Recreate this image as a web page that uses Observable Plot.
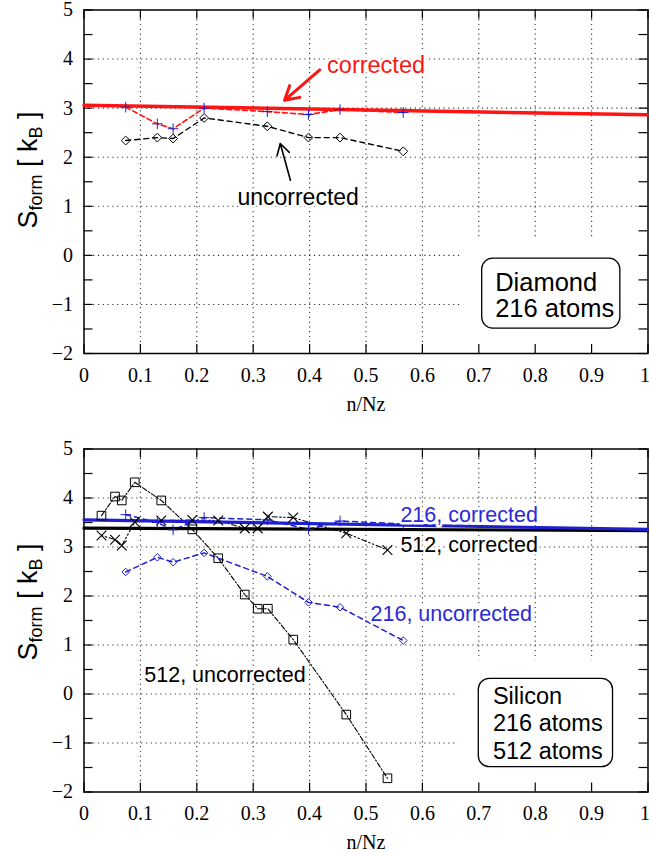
<!DOCTYPE html>
<html><head><meta charset="utf-8">
<script src="https://cdn.jsdelivr.net/npm/d3@7"></script>
<script src="https://cdn.jsdelivr.net/npm/@observablehq/plot@0.6"></script>
<style>
html,body{margin:0;padding:0;background:#fff;}
body{width:649px;height:854px;overflow:hidden;}
svg{display:block;}
</style></head><body><div id="chart"></div>
<script>
// ---------- axes / ticks ----------
const xTicks = [0, 0.1, 0.2, 0.3, 0.4, 0.5, 0.6, 0.7, 0.8, 0.9, 1];
const yTicks = [-2, -1, 0, 1, 2, 3, 4, 5];
const yMinorTicks = [-2, -1.5, -1, -0.5, 0, 0.5, 1, 1.5, 2, 2.5, 3, 3.5, 4, 4.5, 5];
const xGrid = [0.1, 0.2, 0.3, 0.4, 0.5, 0.6, 0.7, 0.8, 0.9];
const yGrid = [-1, 0, 1, 2, 3, 4];
const xLabel = "n/Nz";

// ---------- Diamond, 216 atoms ----------
const diamondX = [0.074, 0.130, 0.158, 0.213, 0.325, 0.398, 0.454, 0.566];
const diamondUncorrected = [2.34, 2.40, 2.38, 2.80, 2.63, 2.40, 2.40, 2.12];
const diamondCorrected = [3.02, 2.68, 2.58, 3.00, 2.93, 2.87, 2.97, 2.91];
const diamondFitX = [0, 1];
const diamondFitY = [3.06, 2.865];

// ---------- Silicon, 216 atoms ----------
const si216X = [0.074, 0.130, 0.158, 0.213, 0.325, 0.398, 0.454, 0.566];
const si216Uncorrected = [2.49, 2.79, 2.69, 2.88, 2.40, 1.87, 1.77, 1.09];
const si216Corrected = [3.66, 3.50, 3.35, 3.60, 3.555, 3.36, 3.53, 3.47];
const si216FitX = [0, 1];
const si216FitY = [3.555, 3.36];

// ---------- Silicon, 512 atoms ----------
const si512X = [0.031, 0.055, 0.067, 0.090, 0.137, 0.192, 0.238, 0.285, 0.308, 0.326, 0.371, 0.465, 0.538];
const si512Uncorrected = [3.64, 4.03, 3.95, 4.32, 3.95, 3.36, 2.77, 2.03, 1.74, 1.74, 1.11, -0.42, -1.72];
const si512Corrected = [3.235, 3.15, 3.03, 3.51, 3.54, 3.55, 3.54, 3.38, 3.38, 3.62, 3.60, 3.28, 2.94];
const si512FitX = [0, 1];
const si512FitY = [3.385, 3.335];

// ---------- annotations ----------
const topLabels = ["corrected", "uncorrected"];
const topLabelX = [0.431, 0.272];
const topLabelY = [3.71, 1.02];
const topArrowFrom = [[0.418, 3.78], [0.366, 1.53]];
const topArrowTo = [[0.3555, 3.16], [0.348, 2.28]];
const topBoxText = "Diamond\n216 atoms";

const bottomLabels = ["216, corrected", "512, corrected", "216, uncorrected", "512, uncorrected"];
const bottomLabelX = [0.561, 0.561, 0.508, 0.393];
const bottomLabelY = [3.52, 2.894, 1.50, 0.24];
const bottomBoxText = "Silicon\n216 atoms\n512 atoms";

const yLabelParts = ["S", "form", " [ k", "B", " ]"];

// ---------- styling ----------
const W = 649, ML = 83.5, MR = 1.5, TICK = 9;
const RED = "#ff1414", BLUE = "#1f1fd0", BLUE_TXT = "#2a2ad6";
const SANS = "Liberation Sans, Arial, Helvetica, sans-serif";
const SERIF = "Liberation Serif, Times New Roman, serif";
const fmt = d3.format("~g");
const pts = (xs, ys) => xs.map((x, i) => ({x, y: ys[i]}));

function panel({height, marginTop, marginBottom, mask, box, marks}) {
  const frameH = height - marginTop - marginBottom;
  const frameW = W - ML - MR;
  const gridStyle = {stroke: "#111", strokeWidth: 1.1, strokeDasharray: "1.2,3.6", strokeOpacity: 0.85};
  const axisText = {tickSize: 0, tickFormat: fmt, fontSize: 20, fontFamily: SERIF, label: null};
  return Plot.plot({
    width: W, height, marginLeft: ML, marginRight: MR, marginTop, marginBottom,
    x: {domain: [0, 1], label: null},
    y: {domain: [-2, 5], label: null},
    style: {background: "white", color: "black", fontFamily: SANS, fontSize: "20px", overflow: "visible"},
    marks: [
      Plot.ruleX(xGrid, {x: d => d, ...gridStyle}),
      Plot.ruleY(yGrid, {y: d => d, ...gridStyle}),
      Plot.rect([mask], {x1: "x1", x2: "x2", y1: "y1", y2: "y2", fill: "white"}),
      Plot.tickX(xTicks, {x: d => d, insetTop: frameH - TICK, stroke: "black", strokeWidth: 1.2}),
      Plot.tickX(xTicks, {x: d => d, insetBottom: frameH - TICK, stroke: "black", strokeWidth: 1.2}),
      Plot.tickY(yMinorTicks, {y: d => d, insetRight: frameW - TICK, stroke: "black", strokeWidth: 1.2}),
      Plot.tickY(yMinorTicks, {y: d => d, insetLeft: frameW - TICK, stroke: "black", strokeWidth: 1.2}),
      Plot.frame({stroke: "black", strokeWidth: 1.5}),
      Plot.axisX(xTicks.slice(0, -1), {...axisText, tickPadding: 14}),
      Plot.axisX(xTicks.slice(-1), {...axisText, tickPadding: 14, dx: -3}),
      Plot.axisY(yTicks, {...axisText, tickPadding: 11}),
      Plot.text([xLabel], {text: d => d, frameAnchor: "bottom", dy: 57, lineAnchor: "bottom", fontSize: 20, fontFamily: SERIF, fill: "black"}),
      Plot.rect([box], {x1: "x1", x2: "x2", y1: "y1", y2: "y2", rx: 11, fill: "white", stroke: "black", strokeWidth: 1.3}),
      Plot.text([box], {x: "tx", y: "ty", text: "text", textAnchor: "start", lineAnchor: "bottom", lineHeight: box.lh, fontSize: box.fs, fontFamily: SANS, fill: "black"}),
      ...marks
    ]
  });
}

function addYLabel(svg, cy) {
  const t = d3.select(svg).append("text")
    .attr("transform", `translate(37,${cy}) rotate(-90)`)
    .attr("text-anchor", "middle")
    .attr("font-family", SANS)
    .attr("font-size", 27)
    .attr("fill", "black");
  t.append("tspan").text(yLabelParts[0]);
  t.append("tspan").attr("font-size", 18).attr("dy", 5).text(yLabelParts[1]);
  t.append("tspan").attr("dy", -5).text(yLabelParts[2]);
  t.append("tspan").attr("font-size", 18).attr("dy", 5).text(yLabelParts[3]);
  t.append("tspan").attr("dy", -5).text(yLabelParts[4]);
}

const labelStyle = {stroke: "white", strokeWidth: 5, paintOrder: "stroke", textAnchor: "start", lineAnchor: "bottom", fontFamily: SANS};

// ---------- top panel ----------
const topLabelData = topLabels.map((t, i) => ({t, x: topLabelX[i], y: topLabelY[i]}));
const topArrows = topArrowFrom.map((f, i) => ({x1: f[0], y1: f[1], x2: topArrowTo[i][0], y2: topArrowTo[i][1]}));
const topSvg = panel({
  height: 440, marginTop: 9.5, marginBottom: 87,
  mask: {x1: 0.671, x2: 1, y1: -2, y2: 0.305},
  box: {x1: 0.706, x2: 0.951, y1: -1.493, y2: -0.067, tx: 0.729, ty: -1.263, text: topBoxText, lh: 1.02, fs: 25.5},
  marks: [
    Plot.line(pts(diamondFitX, diamondFitY), {x: "x", y: "y", stroke: RED, strokeWidth: 3.5}),
    Plot.line(pts(diamondX, diamondCorrected), {x: "x", y: "y", stroke: RED, strokeWidth: 1.6, strokeDasharray: "5,3"}),
    Plot.line(pts(diamondX, diamondUncorrected), {x: "x", y: "y", stroke: "black", strokeWidth: 1.4, strokeDasharray: "5,4"}),
    Plot.dot(pts(diamondX, diamondUncorrected), {x: "x", y: "y", symbol: "diamond2", r: 4, stroke: "black", strokeWidth: 1}),
    Plot.dot(pts(diamondX, diamondCorrected), {x: "x", y: "y", symbol: "plus", r: 3.5, stroke: BLUE, strokeWidth: 1}),
    Plot.arrow([topArrows[0]], {x1: "x1", y1: "y1", x2: "x2", y2: "y2", stroke: RED, strokeWidth: 3, headLength: 15}),
    Plot.arrow([topArrows[1]], {x1: "x1", y1: "y1", x2: "x2", y2: "y2", stroke: "black", strokeWidth: 1.6, headLength: 13}),
    Plot.text([topLabelData[0]], {x: "x", y: "y", text: "t", fill: RED, fontSize: 23.5, ...labelStyle}),
    Plot.text([topLabelData[1]], {x: "x", y: "y", text: "t", fill: "black", fontSize: 23, ...labelStyle})
  ]
});
addYLabel(topSvg, 170);

// ---------- bottom panel ----------
const bl = bottomLabels.map((t, i) => ({t, x: bottomLabelX[i], y: bottomLabelY[i]}));
const bottomSvg = panel({
  height: 414, marginTop: 8.5, marginBottom: 62.5,
  mask: {x1: 0.664, x2: 1, y1: -2, y2: 0.684},
  box: {x1: 0.700, x2: 0.938, y1: -1.494, y2: 0.310, tx: 0.725, ty: -1.32, text: bottomBoxText, lh: 1.17, fs: 23.5},
  marks: [
    Plot.line(pts(si512X, si512Uncorrected), {x: "x", y: "y", stroke: "black", strokeWidth: 1.1, strokeDasharray: "5,2,1.5,2"}),
    Plot.line(pts(si512X, si512Corrected), {x: "x", y: "y", stroke: "black", strokeWidth: 1.1, strokeDasharray: "1.5,2.5,1.5,2.5,5,2.5"}),
    Plot.line(pts(si216X, si216Uncorrected), {x: "x", y: "y", stroke: BLUE, strokeWidth: 1.5, strokeDasharray: "5,4"}),
    Plot.line(pts(si216X, si216Corrected), {x: "x", y: "y", stroke: BLUE, strokeWidth: 1.5, strokeDasharray: "5,4"}),
    Plot.line(pts(si512FitX, si512FitY), {x: "x", y: "y", stroke: "black", strokeWidth: 3.2}),
    Plot.line(pts(si216FitX, si216FitY), {x: "x", y: "y", stroke: BLUE, strokeWidth: 3.2}),
    Plot.dot(pts(si512X, si512Uncorrected), {x: "x", y: "y", symbol: "square2", r: 5.5, stroke: "black", strokeWidth: 1}),
    Plot.dot(pts(si512X, si512Corrected), {x: "x", y: "y", symbol: "times", r: 4.5, stroke: "black", strokeWidth: 1.1}),
    Plot.dot(pts(si216X, si216Uncorrected), {x: "x", y: "y", symbol: "diamond2", r: 3.4, stroke: BLUE, strokeWidth: 1}),
    Plot.dot(pts(si216X, si216Corrected), {x: "x", y: "y", symbol: "plus", r: 3.5, stroke: BLUE, strokeWidth: 1}),
    Plot.text([bl[0]], {x: "x", y: "y", text: "t", fill: BLUE_TXT, fontSize: 21.5, ...labelStyle}),
    Plot.text([bl[1]], {x: "x", y: "y", text: "t", fill: "black", fontSize: 21.5, ...labelStyle}),
    Plot.text([bl[2]], {x: "x", y: "y", text: "t", fill: BLUE_TXT, fontSize: 21.5, ...labelStyle}),
    Plot.text([bl[3]], {x: "x", y: "y", text: "t", fill: "black", fontSize: 21.5, ...labelStyle, textAnchor: "end"})
  ]
});
addYLabel(bottomSvg, 162);

document.getElementById("chart").append(topSvg, bottomSvg);
</script>
</body></html>
